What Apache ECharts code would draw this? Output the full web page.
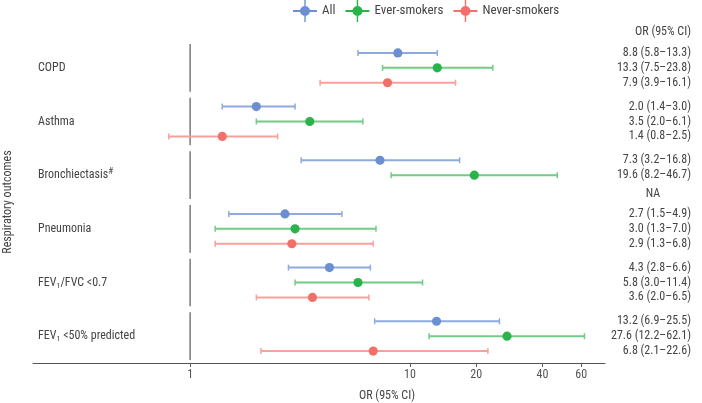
<!DOCTYPE html>
<html><head><meta charset="utf-8">
<script src="https://cdn.jsdelivr.net/npm/echarts@6/dist/echarts.min.js"></script>
<style>html,body{margin:0;padding:0;background:#fff}#c{width:702px;height:403px}</style>
</head><body><div id="c"></div>
<script>
const categories = ['COPD', 'Asthma', 'Bronchiectasis{sup|#}', 'Pneumonia', 'FEV{sub|1}/FVC <0.7', 'FEV{sub|1} <50% predicted'];
const seriesNames = ['All', 'Ever-smokers', 'Never-smokers'];
const allOR = [8.8, 2.0, 7.3, 2.7, 4.3, 13.2];
const allLo = [5.8, 1.4, 3.2, 1.5, 2.8, 6.9];
const allHi = [13.3, 3.0, 16.8, 4.9, 6.6, 25.5];
const everOR = [13.3, 3.5, 19.6, 3.0, 5.8, 27.6];
const everLo = [7.5, 2.0, 8.2, 1.3, 3.0, 12.2];
const everHi = [23.8, 6.1, 46.7, 7.0, 11.4, 62.1];
const neverOR = [7.9, 1.4, null, 2.9, 3.6, 6.8];
const neverLo = [3.9, 0.8, null, 1.3, 2.0, 2.1];
const neverHi = [16.1, 2.5, null, 6.8, 6.5, 22.6];
const tickLabels = [1, 10, 20, 40, 60];
const xMin = 0.193, xMax = 77;

const pointColors = ['#6c8fd2', '#29b34b', '#f3706a'];
const lineColors = ['#8eaade', '#70cc86', '#f6a19c'];
const font = '"Roboto Condensed", Roboto, sans-serif';

const groups = [[allOR, allLo, allHi], [everOR, everLo, everHi], [neverOR, neverLo, neverHi]];
const L = Math.log10;

function slotOffset(api, slot) {
  const band = api.size([0, 1])[1];
  return (slot - 1) * band * 15 / 54;
}

const series = groups.map((g, s) => {
  const data = [];
  g[0].forEach((v, i) => {
    if (v != null) data.push([L(g[1][i]), L(v), L(g[2][i]), i]);
  });
  return {
    name: seriesNames[s],
    type: 'custom',
    itemStyle: { color: pointColors[s] },
    encode: { x: [0, 1, 2], y: 3 },
    data: data,
    z: 3,
    renderItem: function (params, api) {
      const cat = api.value(3);
      const c = api.coord([api.value(1), cat]);
      const lo = api.coord([api.value(0), cat])[0];
      const hi = api.coord([api.value(2), cat])[0];
      const y = c[1] + slotOffset(api, s);
      const ls = { stroke: lineColors[s], lineWidth: 2 };
      const cs = { stroke: lineColors[s], lineWidth: 1.5 };
      return {
        type: 'group',
        children: [
          { type: 'line', shape: { x1: lo, y1: y, x2: hi, y2: y }, style: ls },
          { type: 'line', shape: { x1: lo, y1: y - 3, x2: lo, y2: y + 3 }, style: cs },
          { type: 'line', shape: { x1: hi, y1: y - 3, x2: hi, y2: y + 3 }, style: cs },
          { type: 'circle', shape: { cx: c[0], cy: y, r: 4.6 }, style: { fill: pointColors[s] } }
        ]
      };
    }
  };
});

// reference line at OR = 1, broken per group
series.push({
  type: 'custom',
  silent: true,
  encode: { x: 0, y: 1 },
  data: categories.map((c, i) => [0, i]),
  z: 1,
  renderItem: function (params, api) {
    const c = api.coord([0, api.value(1)]);
    const band = api.size([0, 1])[1];
    return {
      type: 'line',
      shape: { x1: c[0], y1: c[1] - band / 2 + 3, x2: c[0], y2: c[1] + band / 2 - 3 },
      style: { stroke: '#7a7a7a', lineWidth: 1.5 }
    };
  }
});

// OR (95% CI) text column
const textRows = [];
groups.forEach((g, s) => {
  g[0].forEach((v, i) => {
    const txt = v == null ? 'NA' : v.toFixed(1) + ' (' + g[1][i].toFixed(1) + '\u2013' + g[2][i].toFixed(1) + ')';
    textRows.push([0, i, s, txt]);
  });
});
series.push({
  type: 'custom',
  silent: true,
  encode: { x: 0, y: 1 },
  data: textRows,
  renderItem: function (params, api) {
    const row = textRows[params.dataIndex];
    const c = api.coord([0, row[1]]);
    const na = row[3] === 'NA';
    const y = c[1] + slotOffset(api, row[2]) + (na ? 4 : 0);
    const W = api.getWidth();
    return {
      type: 'text',
      x: na ? W - 49 : W - 11,
      y: y,
      style: {
        text: row[3], fill: '#444', fontSize: 12, fontFamily: font,
        align: na ? 'center' : 'right', verticalAlign: 'middle'
      }
    };
  }
});

const iconPath = 'path://M0,10 L24,10 L24,12 L0,12 Z M11.3,0 L12.7,0 L12.7,22 L11.3,22 Z M7,11 A5,5 0 1,1 17,11 A5,5 0 1,1 7,11 Z';

const option = {
  animation: false,
  textStyle: { fontFamily: font },
  legend: {
    data: seriesNames.map(n => ({ name: n, icon: iconPath })),
    left: 293, top: 0, padding: 0,
    itemWidth: 24, itemHeight: 22, itemGap: 10,
    textStyle: { fontSize: 13, color: '#444', fontFamily: font }
  },
  graphic: [{
    type: 'text', right: 11, top: 26,
    style: { text: 'OR (95% CI)', fontSize: 12, fill: '#444', fontFamily: font }
  }],
  grid: { left: 33, right: 97, top: 41, bottom: 40, containLabel: false, outerBoundsMode: 'none' },
  xAxis: {
    type: 'value',
    min: L(xMin), max: L(xMax),
    name: 'OR (95% CI)',
    nameLocation: 'middle', nameGap: 27,
    nameTextStyle: { fontSize: 12, color: '#444', padding: [0, 0, 0, 136], fontFamily: font },
    axisLine: { show: true, onZero: false, lineStyle: { color: '#555', width: 1 } },
    axisTick: { show: true, length: 4, customValues: tickLabels.map(L), lineStyle: { color: '#555' } },
    axisLabel: {
      customValues: tickLabels.map(L), margin: 6, fontSize: 12, color: '#555', fontFamily: font,
      formatter: v => String(Math.round(Math.pow(10, v)))
    },
    splitLine: { show: false }
  },
  yAxis: {
    type: 'category',
    data: categories,
    inverse: true,
    name: 'Respiratory outcomes',
    nameLocation: 'middle', nameGap: 19, nameRotate: 90,
    nameTextStyle: { fontSize: 12, color: '#444', fontFamily: font },
    axisLine: { show: false },
    axisTick: { show: false },
    splitLine: { show: false },
    axisLabel: {
      inside: true, margin: 5, fontSize: 12, color: '#444', fontFamily: font,
      rich: {
        sub: { fontSize: 8, color: '#444', padding: [6, 0, 0, 0], fontFamily: font },
        sup: { fontSize: 9, color: '#444', padding: [0, 0, 6, 0], fontFamily: font }
      }
    }
  },
  series: series
};
echarts.init(document.getElementById('c'), null, { renderer: 'canvas' }).setOption(option);
</script></body></html>
